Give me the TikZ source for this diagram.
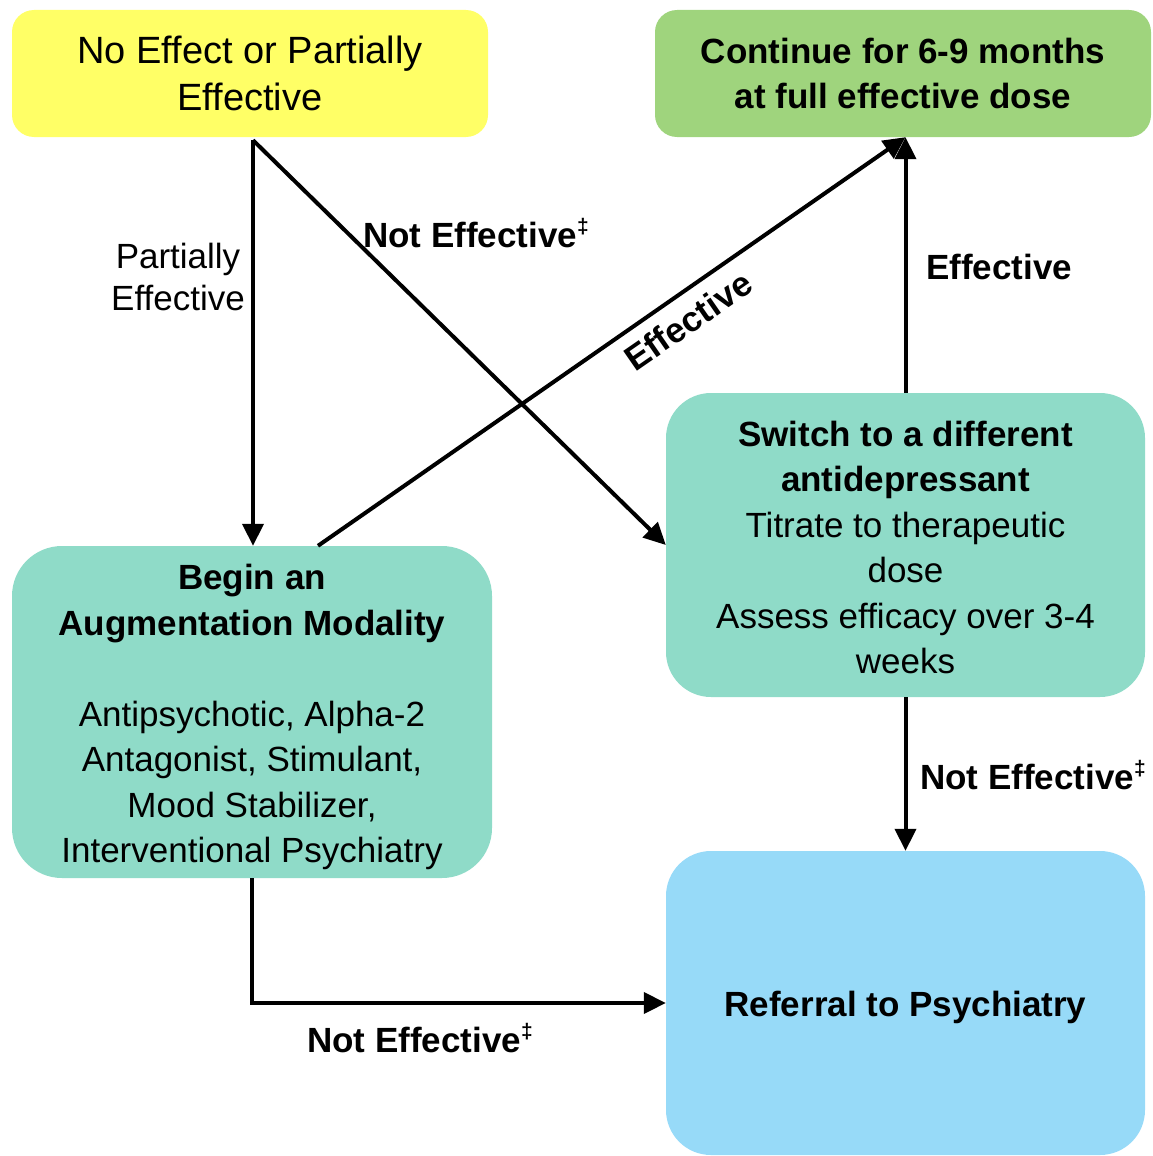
\documentclass[tikz,border=0pt]{standalone}
\usepackage{fontspec}
\setmainfont{Liberation Sans}
\usetikzlibrary{arrows.meta,calc}
\definecolor{cyellow}{HTML}{FFFF66}
\definecolor{cgreen}{HTML}{9FD47D}
\definecolor{cteal}{HTML}{8FDBC8}
\definecolor{cblue}{HTML}{97DAF8}
\newcommand{\dg}{\raisebox{0.38em}{\fontsize{21}{21}\selectfont\bfseries ‡}}
\tikzset{
  box/.style={inner sep=0pt, align=center, font=\fontsize{35}{45.5}\selectfont},
  arr/.style={line width=4pt, -{Triangle[length=22pt,width=21pt]}},
  lbl/.style={inner sep=0pt, font=\fontsize{35}{42}\selectfont\bfseries},
}
\begin{document}
\begin{tikzpicture}[x=1pt,y=-1pt]
\useasboundingbox (0,0) rectangle (1153,1156);
\node[box, fill=cyellow, rounded corners=22pt, minimum width=476pt, minimum height=127pt,
  font=\fontsize{38}{47}\selectfont] (yellow) at (250,73.5) {No Effect or Partially\\Effective};
\node[box, fill=cgreen, rounded corners=22pt, minimum width=496pt, minimum height=127pt] (green) at (903,73.5)
  {\bfseries Continue for 6-9 months\\\bfseries at full effective dose};
\node[box, fill=cteal, rounded corners=45pt, minimum width=479pt, minimum height=304pt] (switch) at (905.5,545)
  {\rule{0pt}{30pt}\bfseries Switch to a different\\\bfseries antidepressant\\Titrate to therapeutic\\dose\\Assess efficacy over 3-4\\weeks};
\node[box, fill=cteal, rounded corners=50pt, minimum width=480pt, minimum height=332pt] (aug) at (252,712)
  {\rule{0pt}{36pt}\bfseries Begin an\\\bfseries Augmentation Modality\\[45.5pt]Antipsychotic, Alpha-2\\Antagonist, Stimulant,\\Mood Stabilizer,\\Interventional Psychiatry};
\node[box, fill=cblue, rounded corners=45pt, minimum width=479pt, minimum height=304pt] (ref) at (905.5,1003)
  {\rule{0pt}{34pt}\bfseries Referral to Psychiatry};

\coordinate (ystart) at ($(yellow.south)+(3,3)$);
\coordinate (augtop) at ($(aug.north)+(66,0)$);
\coordinate (gbot) at (green.south -| switch.north);
\draw[arr] (ystart) -- (ystart |- aug.north);
\draw[arr] (ystart) -- (switch.west);
\draw[arr] (augtop) -- (gbot);
\draw[arr] (switch.north) -- (gbot);
\draw[arr] (switch.south) -- (ref.north);
\draw[arr] (aug.south) -- (aug.south |- ref.west) -- (ref.west);

\node[inner sep=0pt, align=center, font=\fontsize{35}{42}\selectfont] (lpe) at (178,277) {Partially\\Effective};
\node[lbl, anchor=west] (lne1) at (363,233) {Not Effective\dg};
\node[lbl, rotate=34.7] (leff1) at (688,321) {Effective};
\node[lbl, anchor=west] (leff2) at (926,267) {Effective};
\node[lbl, anchor=west] (lne2) at (920,775) {Not Effective\dg};
\node[lbl, anchor=west] (lne3) at (307,1038) {Not Effective\dg};
\end{tikzpicture}
\end{document}
